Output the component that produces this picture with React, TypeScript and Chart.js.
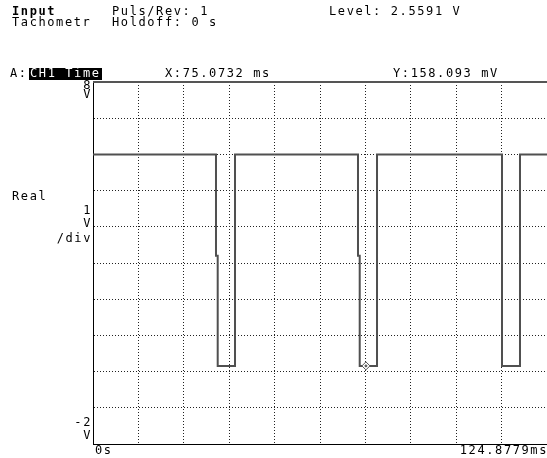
import React, { useEffect, useRef } from "react";
import { Chart, registerables } from "chart.js";

Chart.register(...registerables);

const X_MAX = 124.8779;
const X_TICKS = [0, 12.48779, 24.97558, 37.46337, 49.95116, 62.43895, 74.92674, 87.41453, 99.90232, 112.39011, 124.8779];
const Y_TICKS = [-2, -1, 0, 1, 2, 3, 4, 5, 6, 7, 8];
const Y_MIN = -2;
const Y_MAX = 8;

// Tachometer signal (ms, V)
const SIGNAL_T = [0, 33.83, 33.83, 34.3, 34.3, 39.06, 39.06, 72.89, 72.89, 73.36, 73.36, 78.12, 78.12, 112.5, 112.5, 117.45, 117.45, 124.8779];
const SIGNAL_V = [6.0, 6.0, 3.2, 3.2, 0.158, 0.158, 6.0, 6.0, 3.2, 3.2, 0.158, 0.158, 6.0, 6.0, 0.158, 0.158, 6.0, 6.0];

const CURSOR_T = [75.0732];
const CURSOR_V = [0.158093];

const FONT = '12px "DejaVu Sans Mono"';
const FONT_BOLD = 'bold 12px "DejaVu Sans Mono"';

const textPlugin = {
  id: "scopeText",
  afterDraw(chart: any) {
    const ctx = chart.ctx as CanvasRenderingContext2D;
    const area = chart.chartArea;
    ctx.save();
    (ctx as any).letterSpacing = "1.6px";
    ctx.fillStyle = "#000";
    ctx.textBaseline = "middle";
    const t = (s: string, x: number, y: number, align: CanvasTextAlign = "left", font = FONT) => {
      ctx.font = font;
      ctx.textAlign = align;
      ctx.fillText(s, x, y);
    };
    // top frame line
    ctx.strokeStyle = "#555";
    ctx.lineWidth = 2;
    ctx.beginPath();
    ctx.moveTo(area.left, area.top);
    ctx.lineTo(area.right, area.top);
    ctx.stroke();

    t("Input", 12, 12, "left", FONT_BOLD);
    t("Tachometr", 12, 23);
    t("Puls/Rev: 1", 112, 12);
    t("Holdoff: 0 s", 112, 23);
    t("Level: 2.5591 V", 329, 12);

    t("A:", 10, 74);
    ctx.fillStyle = "#000";
    ctx.fillRect(29, 68, 73, 12);
    ctx.fillStyle = "#fff";
    t("CH1 Time", 30, 74);
    ctx.fillStyle = "#000";
    t("X:75.0732 ms", 165, 74);
    t("Y:158.093 mV", 393, 74);

    const r = area.left - 1;
    t("8", r, 86, "right");
    t("V", r, 95, "right");
    t("Real", 12, 197);
    t("1", r, 211, "right");
    t("V", r, 224, "right");
    t("/div", r, 239, "right");
    t("-2", r, 423, "right");
    t("V", r, 436, "right");
    t("0s", area.left + 2, 451);
    t("124.8779ms", 548, 451, "right");
    ctx.restore();
  },
};

export default function App() {
  const ref = useRef<HTMLCanvasElement>(null);
  useEffect(() => {
    if (!ref.current) return;
    const signal = SIGNAL_T.map((x, i) => ({ x, y: SIGNAL_V[i] }));
    const cursor = CURSOR_T.map((x, i) => ({ x, y: CURSOR_V[i] }));
    const edgeX = (ctx: any) => {
      const v = ctx.tick ? ctx.tick.value : null;
      return v === 0 || v === X_MAX ? "transparent" : "#222";
    };
    const edgeY = (ctx: any) => {
      const v = ctx.tick ? ctx.tick.value : null;
      return v === Y_MIN || v === Y_MAX ? "transparent" : "#222";
    };
    const chart = new Chart(ref.current, {
      type: "line",
      data: {
        datasets: [
          {
            data: signal,
            borderColor: "#505050",
            borderWidth: 2,
            pointRadius: 0,
            tension: 0,
            order: 2,
          },
          {
            data: cursor,
            showLine: false,
            pointStyle: "rectRot",
            pointRadius: 4,
            borderColor: "#555",
            borderWidth: 1,
            backgroundColor: "#fff",
            order: 1,
          },
          {
            data: cursor,
            showLine: false,
            pointStyle: "circle",
            pointRadius: 1,
            borderColor: "#555",
            borderWidth: 1,
            backgroundColor: "#555",
            order: 0,
          },
        ],
      },
      options: {
        animation: false,
        responsive: false,
        devicePixelRatio: 1,
        layout: { autoPadding: false, padding: { left: 93, top: 82, right: 0, bottom: 14 } },
        plugins: { legend: { display: false }, tooltip: { enabled: false } },
        scales: {
          x: {
            type: "linear",
            min: 0,
            max: X_MAX,
            afterBuildTicks: (s: any) => {
              s.ticks = X_TICKS.map((v) => ({ value: v }));
            },
            ticks: { display: false },
            grid: { drawTicks: false, color: edgeX, lineWidth: 1 },
            border: { display: true, color: "#000", width: 1, dash: [1, 2] },
          },
          y: {
            type: "linear",
            min: Y_MIN,
            max: Y_MAX,
            afterBuildTicks: (s: any) => {
              s.ticks = Y_TICKS.map((v) => ({ value: v }));
            },
            ticks: { display: false },
            grid: { drawTicks: false, color: edgeY, lineWidth: 1 },
            border: { display: true, color: "#000", width: 1, dash: [1, 2] },
          },
        },
      },
      plugins: [textPlugin],
    } as any);
    return () => chart.destroy();
  }, []);
  return (
    <div style={{ position: "fixed", left: 0, top: 0, width: 547, height: 458, background: "#fff" }}>
      <canvas ref={ref} width={547} height={458} style={{ display: "block" }} />
    </div>
  );
}
